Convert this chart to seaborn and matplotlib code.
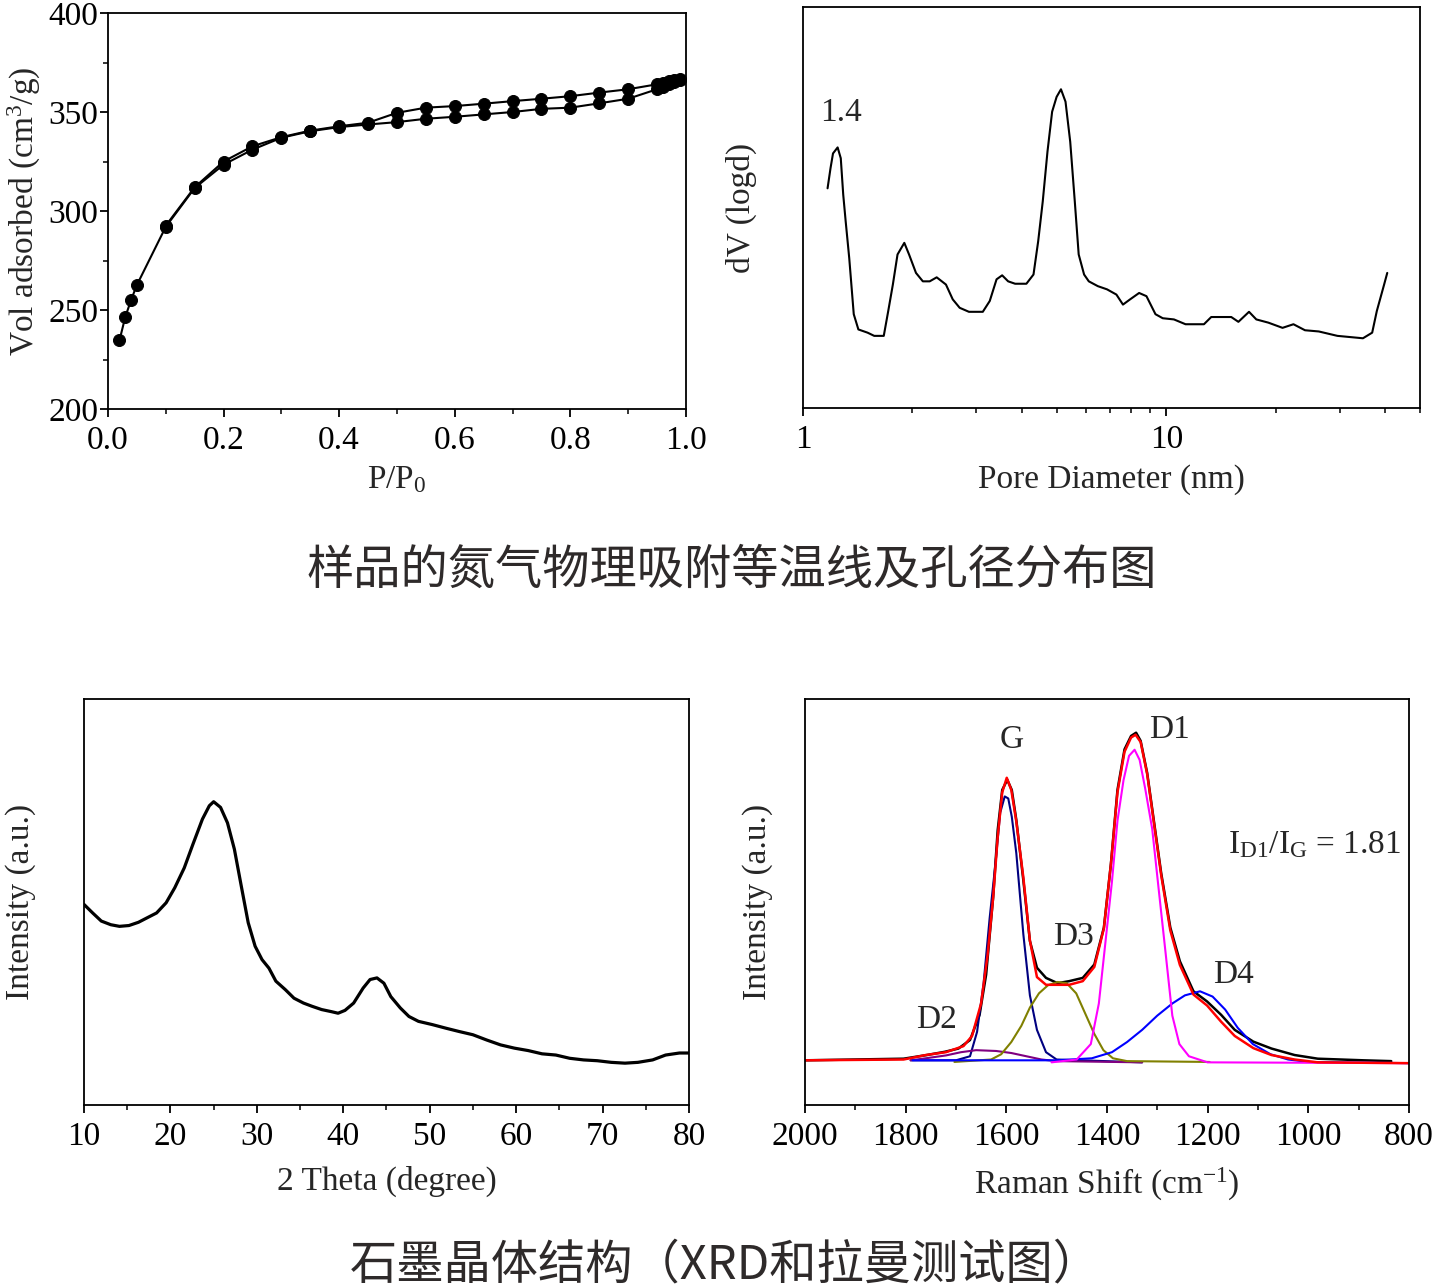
import numpy as np
import pandas as pd
import matplotlib
matplotlib.use('Agg')
import matplotlib.pyplot as plt
import seaborn as sns
from matplotlib.ticker import MultipleLocator, NullFormatter

# ---- isotherm (N2 physisorption) ----
p_ads = [0.02, 0.03, 0.04, 0.05, 0.10, 0.15, 0.20, 0.25, 0.30, 0.35, 0.40, 0.45,
         0.50, 0.55, 0.60, 0.65, 0.70, 0.75, 0.80, 0.85, 0.90, 0.95, 0.96, 0.97, 0.98, 0.99]
v_ads = [234.7, 246.5, 255.0, 262.6, 292.0, 311.6, 323.4, 331.0, 337.0, 340.3, 342.4, 343.7,
         344.9, 346.6, 347.6, 348.8, 350.0, 351.6, 352.2, 354.4, 356.7, 361.5, 362.8, 364.0, 365.2, 366.2]
p_des = [0.10, 0.15, 0.20, 0.25, 0.30, 0.35, 0.40, 0.45, 0.50, 0.55, 0.60, 0.65,
         0.70, 0.75, 0.80, 0.85, 0.90, 0.95, 0.96, 0.97, 0.98, 0.99]
v_des = [292.6, 312.0, 325.0, 332.7, 337.3, 340.6, 342.8, 344.6, 349.6, 352.2, 353.0, 354.2,
         355.5, 356.7, 358.0, 359.8, 361.5, 364.0, 364.8, 365.5, 366.2, 366.6]

# ---- pore size distribution ----
pore_d = [1.168, 1.19, 1.209, 1.245, 1.27, 1.29, 1.31, 1.34, 1.379, 1.42, 1.505, 1.57, 1.668,
          1.716, 1.767, 1.82, 1.90, 1.958, 2.046, 2.137, 2.232, 2.333, 2.474, 2.583, 2.699,
          2.862, 3.125, 3.266, 3.41, 3.533, 3.67, 3.836, 4.12, 4.31, 4.44, 4.57, 4.71, 4.85,
          4.99, 5.13, 5.28, 5.44, 5.60, 5.74, 5.94, 6.12, 6.48, 6.87, 7.29, 7.60, 7.95, 8.42,
          8.82, 9.34, 9.78, 10.5, 11.3, 12.7, 13.3, 15.1, 15.8, 16.9, 17.7, 19.1, 20.9, 22.4,
          24.1, 26.3, 29.6, 34.8, 36.9, 38.0, 39.8, 40.6]
dv_logd = [54.8, 59.8, 63.5, 65.0, 62.3, 53.2, 46.6, 37.4, 23.4, 19.6, 18.8, 18.0, 18.0,
           24.2, 30.8, 38.3, 41.2, 38.3, 33.7, 31.6, 31.6, 32.6, 30.8, 27.1, 25.0,
           24.0, 24.0, 26.7, 32.1, 33.1, 31.6, 31.0, 31.0, 33.3, 41.6, 51.5, 64.0, 73.9,
           77.6, 79.5, 76.4, 66.4, 51.5, 38.3, 33.3, 31.6, 30.4, 29.6, 28.3, 25.8, 27.1, 28.7,
           27.9, 23.4, 22.4, 22.1, 20.9, 20.9, 22.7, 22.7, 21.5, 24.0, 22.1, 21.3, 20.0, 20.9,
           19.4, 19.1, 18.0, 17.4, 18.8, 24.2, 30.8, 33.7]

# ---- XRD ----
two_theta = [10.0, 11.0, 12.0, 13.1, 14.1, 15.2, 16.3, 17.3, 18.4, 19.5, 20.5, 21.6, 22.6,
             23.7, 24.5, 25.0, 25.8, 26.6, 27.4, 28.2, 29.0, 29.8, 30.6, 31.4, 32.2, 33.3,
             34.3, 35.4, 36.4, 37.5, 38.6, 39.4, 40.2, 41.2, 42.3, 43.1, 43.9, 44.7, 45.5,
             46.6, 47.6, 48.7, 50.3, 51.9, 53.4, 55.0, 56.6, 58.2, 59.8, 61.4, 63.0, 64.6,
             66.2, 67.8, 69.4, 71.0, 72.6, 74.1, 75.8, 77.3, 78.9, 80.0]
xrd_int = [49.4, 47.3, 45.3, 44.4, 44.0, 44.2, 45.0, 46.1, 47.3, 49.8, 53.5, 58.4, 64.2,
           70.4, 73.7, 74.7, 73.3, 69.5, 63.0, 53.9, 44.9, 39.1, 35.8, 33.7, 30.5, 28.4,
           26.3, 25.1, 24.3, 23.5, 23.0, 22.6, 23.3, 25.1, 28.8, 30.9, 31.3, 30.0, 26.7,
           23.9, 21.8, 20.6, 19.8, 18.9, 18.1, 17.3, 16.0, 14.8, 14.0, 13.4, 12.6, 12.3,
           11.5, 11.1, 10.9, 10.5, 10.3, 10.5, 11.1, 12.3, 12.8, 12.8]

# ---- Raman ----
raman_x = [2000, 1804, 1758, 1722, 1695, 1672, 1653, 1640, 1626, 1617, 1608, 1598, 1589, 1580,
           1566, 1553, 1539, 1521, 1498, 1475, 1448, 1425, 1406, 1392, 1379, 1365, 1352, 1342,
           1333, 1320, 1306, 1292, 1274, 1255, 1228, 1201, 1173, 1146, 1109, 1073, 1027, 981,
           890, 835]
raman_y = [11.0, 11.4, 12.3, 13.1, 13.9, 16.0, 22.2, 32.1, 51.2, 67.7, 77.6, 80.1, 77.6, 70.2,
           55.3, 40.4, 33.8, 31.3, 30.0, 30.5, 31.3, 34.6, 43.7, 59.4, 77.6, 87.6, 90.9, 91.7,
           89.7, 81.8, 69.4, 57.0, 43.7, 35.4, 28.0, 25.5, 22.2, 18.5, 15.6, 13.9, 12.3, 11.4,
           11.0, 10.8]
fit_x = [2000, 1804, 1760, 1720, 1685, 1668, 1650, 1637, 1626, 1617, 1608, 1599, 1590, 1580,
         1566, 1553, 1539, 1521, 1475, 1448, 1425, 1406, 1392, 1379, 1365, 1352, 1343, 1333,
         1320, 1306, 1292, 1274, 1255, 1228, 1201, 1173, 1146, 1109, 1073, 1027, 981, 800]
fit_y = [11.0, 11.2, 12.3, 13.0, 14.5, 17.0, 25.0, 37.0, 51.2, 66.0, 77.0, 80.6, 77.6, 69.8,
         56.0, 40.5, 31.5, 29.6, 29.6, 30.5, 34.0, 43.5, 59.4, 77.0, 87.0, 90.5, 91.2, 89.4,
         81.5, 69.0, 56.5, 43.0, 34.5, 27.2, 24.5, 20.5, 17.0, 14.0, 12.3, 11.2, 10.5, 10.3]
g_x = [1790, 1700, 1672, 1658, 1645, 1633, 1621, 1612, 1603, 1596, 1589, 1580, 1566, 1553,
       1539, 1521, 1500, 1330]
g_y = [11.0, 11.0, 12.0, 18.0, 30.0, 46.0, 60.0, 72.0, 76.0, 75.5, 71.0, 62.0, 42.0, 27.0,
       18.5, 13.0, 11.2, 10.5]
d3_x = [1703, 1630, 1610, 1590, 1570, 1553, 1535, 1517, 1498, 1480, 1461, 1443, 1425, 1407,
        1388, 1360, 1196]
d3_y = [10.6, 11.2, 12.5, 15.5, 19.5, 24.0, 27.5, 29.5, 30.3, 30.0, 27.5, 22.5, 17.5, 13.5,
        11.5, 10.8, 10.6]
d1_x = [1510, 1460, 1432, 1416, 1403, 1390, 1379, 1367, 1356, 1345, 1335, 1324, 1310, 1297,
        1283, 1270, 1256, 1237, 1200, 800]
d1_y = [10.5, 11.2, 15.0, 25.0, 40.0, 55.0, 70.0, 80.0, 86.0, 87.5, 85.0, 78.0, 68.0, 53.0,
        37.0, 22.0, 15.0, 12.0, 10.5, 10.3]
d4_x = [1786, 1500, 1430, 1390, 1360, 1330, 1300, 1270, 1245, 1215, 1190, 1165, 1140, 1110,
        1075, 1040, 1000, 800]
d4_y = [11.0, 11.0, 11.5, 13.0, 15.5, 18.5, 22.0, 25.0, 27.0, 28.0, 26.7, 23.5, 19.0, 15.0,
        12.5, 11.2, 10.6, 10.3]
d2_x = [1790, 1760, 1720, 1690, 1660, 1620, 1590, 1560, 1530, 1500, 1330]
d2_y = [11.0, 11.5, 12.2, 13.0, 13.5, 13.3, 12.8, 12.0, 11.2, 10.8, 10.5]

raman_parts = [
    (g_x, g_y, '#000080'),
    (d2_x, d2_y, '#800080'),
    (d3_x, d3_y, '#808000'),
    (d4_x, d4_y, '#0000ff'),
    (d1_x, d1_y, '#ff00ff'),
]

sns.set_style('ticks')
plt.rcParams['font.family'] = ['Liberation Serif', 'DejaVu Serif']
plt.rcParams['mathtext.fontset'] = 'stix'
plt.rcParams['axes.linewidth'] = 1.3
plt.rcParams['xtick.major.width'] = 1.3
plt.rcParams['ytick.major.width'] = 1.3
plt.rcParams['xtick.minor.width'] = 1.1
plt.rcParams['ytick.minor.width'] = 1.1
plt.rcParams['xtick.major.size'] = 6
plt.rcParams['ytick.major.size'] = 6
plt.rcParams['xtick.minor.size'] = 3.5
plt.rcParams['ytick.minor.size'] = 3.5
plt.rcParams['xtick.direction'] = 'out'
plt.rcParams['ytick.direction'] = 'out'

FS = 24
fig = plt.figure(figsize=(14.41, 12.88), dpi=100)

ax1 = fig.add_axes([0.0749, 0.6824, 0.4011, 0.3075])
ax2 = fig.add_axes([0.5573, 0.6832, 0.4282, 0.3113])
ax3 = fig.add_axes([0.0583, 0.1421, 0.4198, 0.3152])
ax4 = fig.add_axes([0.5586, 0.1421, 0.4191, 0.3152])

for ax in (ax1, ax2, ax3, ax4):
    for s in ax.spines.values():
        s.set_visible(True)
        s.set_color('black')
    ax.tick_params(axis='both', which='both', top=False, right=False, labelsize=FS, pad=6,
                   colors='black')

# isotherm
iso = pd.concat([
    pd.DataFrame({'p': p_ads, 'v': v_ads, 'branch': 'ads'}),
    pd.DataFrame({'p': p_des, 'v': v_des, 'branch': 'des'}),
])
for br, d in iso.groupby('branch'):
    sns.lineplot(data=d, x='p', y='v', ax=ax1, color='black', lw=1.5, estimator=None,
                 sort=False, legend=False)
    sns.scatterplot(data=d, x='p', y='v', ax=ax1, color='black', s=75, edgecolor='black',
                    legend=False, zorder=3)
ax1.set_xlim(0, 1.0)
ax1.set_ylim(200, 400)
ax1.xaxis.set_major_locator(MultipleLocator(0.2))
ax1.xaxis.set_minor_locator(MultipleLocator(0.1))
ax1.yaxis.set_major_locator(MultipleLocator(50))
ax1.yaxis.set_minor_locator(MultipleLocator(25))
ax1.xaxis.set_major_formatter(plt.FuncFormatter(lambda v, _: f'{v:.1f}'))
ax1.tick_params(axis='y', pad=1)
ax1.set_xlabel(r'P/P$\mathregular{_0}$', fontsize=FS)
ax1.set_ylabel(r'Vol adsorbed (cm$\mathregular{^3}$/g)', fontsize=FS)
ax1.xaxis.set_label_coords(0.5, -0.14)
ax1.yaxis.set_label_coords(-0.112, 0.5)

# pore size distribution
ax2.set_xscale('log')
sns.lineplot(x=pore_d, y=dv_logd, ax=ax2, color='black', lw=1.5, estimator=None)
ax2.set_xlim(1, 50)
ax2.set_ylim(0, 100)
ax2.set_xticks([1, 10])
ax2.set_xticklabels(['1', '10'])
ax2.set_xticks([2, 3, 4, 5, 6, 7, 8, 9, 20, 30, 40, 50], minor=True)
ax2.xaxis.set_minor_formatter(NullFormatter())
ax2.set_yticks([])
ax2.set_xlabel('Pore Diameter (nm)', fontsize=FS)
ax2.set_ylabel('dV (logd)', fontsize=FS)
ax2.xaxis.set_label_coords(0.5, -0.14)
ax2.yaxis.set_label_coords(-0.075, 0.5)
ax2.text(1.27, 73.6, '1.4', fontsize=FS, ha='center', va='center')

# XRD
sns.lineplot(x=two_theta, y=xrd_int, ax=ax3, color='black', lw=2.3, estimator=None)
ax3.set_xlim(10, 80)
ax3.set_ylim(0, 100)
ax3.xaxis.set_major_locator(MultipleLocator(10))
ax3.xaxis.set_minor_locator(MultipleLocator(5))
ax3.set_yticks([])
ax3.set_xlabel('2 Theta (degree)', fontsize=FS)
ax3.set_ylabel('Intensity (a.u.)', fontsize=FS)
ax3.xaxis.set_label_coords(0.5, -0.15)
ax3.yaxis.set_label_coords(-0.079, 0.5)

# Raman
sns.lineplot(x=raman_x, y=raman_y, ax=ax4, color='black', lw=1.8, estimator=None)
for xs, ys, col in raman_parts:
    sns.lineplot(x=xs, y=ys, ax=ax4, color=col, lw=1.5, estimator=None)
sns.lineplot(x=fit_x, y=fit_y, ax=ax4, color='#ff0000', lw=1.8, estimator=None)
ax4.set_xlim(2000, 800)
ax4.set_ylim(0, 100)
ax4.xaxis.set_major_locator(MultipleLocator(200))
ax4.xaxis.set_minor_locator(MultipleLocator(100))
ax4.set_yticks([])
ax4.set_xlabel(r'Raman Shift (cm$\mathregular{^{-1}}$)', fontsize=FS)
ax4.set_ylabel('Intensity (a.u.)', fontsize=FS)
ax4.xaxis.set_label_coords(0.5, -0.15)
ax4.yaxis.set_label_coords(-0.053, 0.5)
ax4.text(0.343, 0.899, 'G', transform=ax4.transAxes, fontsize=FS, ha='center', va='center')
ax4.text(0.603, 0.924, 'D1', transform=ax4.transAxes, fontsize=FS, ha='center', va='center')
ax4.text(0.444, 0.414, 'D3', transform=ax4.transAxes, fontsize=FS, ha='center', va='center')
ax4.text(0.218, 0.209, 'D2', transform=ax4.transAxes, fontsize=FS, ha='center', va='center')
ax4.text(0.709, 0.32, 'D4', transform=ax4.transAxes, fontsize=FS, ha='center', va='center')
ax4.text(0.70, 0.64, r'I$\mathregular{_{D1}}$/I$\mathregular{_G}$ = 1.81', transform=ax4.transAxes,
         fontsize=FS, ha='left', va='center')

cjk = ['Noto Sans CJK SC', 'DejaVu Sans']
fig.text(0.508, 0.557, '样品的氮气物理吸附等温线及孔径分布图', fontsize=34, family=cjk,
         color='#2e2a2a', ha='center', va='center')
fig.text(0.503, 0.018, '石墨晶体结构（XRD和拉曼测试图）', fontsize=34, family=cjk,
         color='#2e2a2a', ha='center', va='center')

fig.savefig('out.png', dpi=100)
